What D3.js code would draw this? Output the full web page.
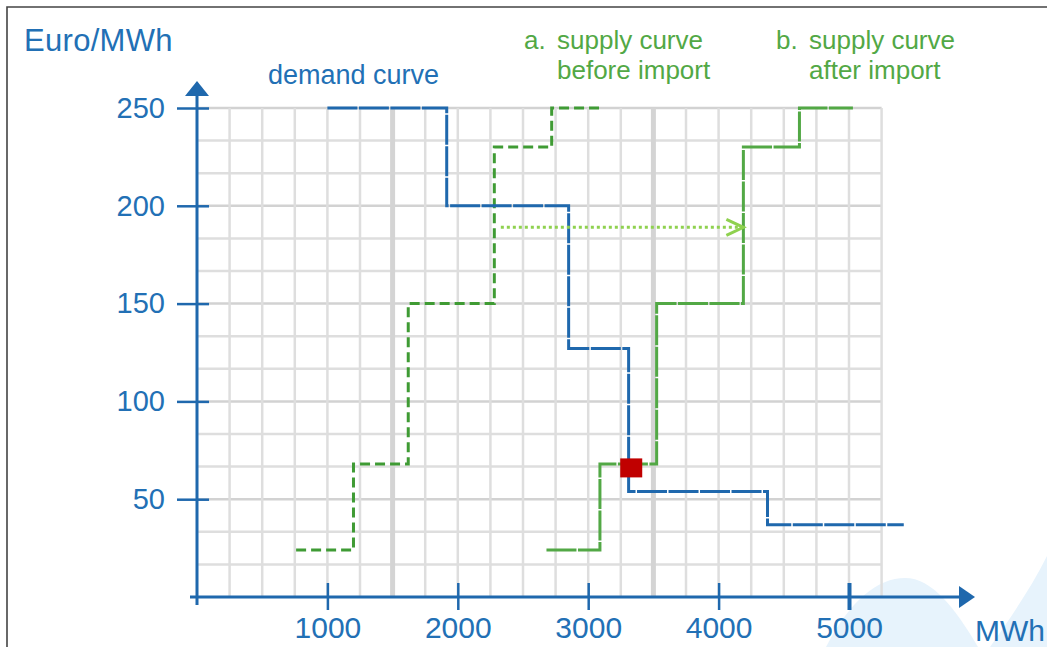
<!DOCTYPE html>
<html>
<head>
<meta charset="utf-8">
<script src="https://cdn.jsdelivr.net/npm/d3@7"></script>
<style>
  body { margin: 0; background: #fff; }
  text { font-family: "Liberation Sans", Arial, sans-serif; }
</style>
</head>
<body>
<script>
// step curves (MWh, Euro/MWh)
var demandQ = [1000, 1915, 2850, 3310, 4375, 5420];
var demandP = [250, 200, 127, 54, 37, 37];

var beforeQ = [760, 1200, 1620, 2280, 2720, 3110];
var beforeP = [24, 68, 150, 230, 250, 250];

var afterQ = [2680, 3090, 3525, 4190, 4620, 5030];
var afterP = [24, 68, 150, 230, 250, 250];

var importArrowQ = [2330, 4190];
var importArrowP = 189;

var equilibrium = [3330, 66];

var xTicks = [1000, 2000, 3000, 4000, 5000];
var yTicks = [50, 100, 150, 200, 250];

var width = 1047,
    height = 647;

var blue = '#1f68ad',
    textBlue = '#2270b5',
    green = '#52a845',
    darkGreen = '#3f9b34';

var svg = d3.select('body')
  .append('svg')
  .attr('width', width)
  .attr('height', height);

var x = d3.scaleLinear().domain([0, 5000]).range([197, 849]);
var y = d3.scaleLinear().domain([0, 250]).range([597, 108]);

// light blue decoration in the corner
svg.append('path')
  .attr('d', 'M826,647 C850,600 878,578 905,578 C932,578 955,608 978,647 Z')
  .attr('fill', '#e7f3fc');
svg.append('path')
  .attr('d', 'M990,647 C1010,618 1030,590 1047,556 L1047,647 Z')
  .attr('fill', '#e7f3fc');

// frame
svg.append('path')
  .attr('d', 'M7,647 L7,7 L1047,7')
  .attr('fill', 'none')
  .attr('stroke', '#444')
  .attr('stroke-width', 1.6);

// grid
var grid = svg.append('g');
var vLines = d3.range(250, 5251, 250);
var hLines = d3.range(1, 16).map(function(i) { return i * 50 / 3; });

grid.selectAll('line.h')
  .data(hLines)
  .enter()
  .append('line')
  .attr('x1', x(0))
  .attr('x2', x(5250))
  .attr('y1', d => y(d))
  .attr('y2', d => y(d))
  .attr('stroke', (d, i) => (i + 1) % 3 == 0 ? '#d2d2d2' : '#dedede')
  .attr('stroke-width', 2.5);

grid.selectAll('line.v')
  .data(vLines)
  .enter()
  .append('line')
  .attr('x1', d => x(d))
  .attr('x2', d => x(d))
  .attr('y1', y(250))
  .attr('y2', y(0))
  .attr('stroke', d => (d == 1500 || d == 3500) ? '#d4d4d4' : '#dedede')
  .attr('stroke-width', d => (d == 1500 || d == 3500) ? 5 : 2.5);

// curves
var step = d3.line()
  .x(d => x(d[0]))
  .y(d => y(d[1]))
  .curve(d3.curveStepAfter);

svg.append('path')
  .datum(d3.zip(beforeQ, beforeP))
  .attr('d', step)
  .attr('fill', 'none')
  .attr('stroke', darkGreen)
  .attr('stroke-width', 3)
  .attr('stroke-dasharray', '10,5');

svg.append('path')
  .datum(d3.zip(afterQ, afterP))
  .attr('d', step)
  .attr('fill', 'none')
  .attr('stroke', green)
  .attr('stroke-width', 3)
  .attr('stroke-dasharray', '30,1.5');

svg.append('path')
  .datum(d3.zip(demandQ, demandP))
  .attr('d', step)
  .attr('fill', 'none')
  .attr('stroke', blue)
  .attr('stroke-width', 3)
  .attr('stroke-dasharray', '30,1.5');

// import arrow
svg.append('line')
  .attr('x1', x(importArrowQ[0]))
  .attr('x2', x(importArrowQ[1]) - 3)
  .attr('y1', y(importArrowP))
  .attr('y2', y(importArrowP))
  .attr('stroke', '#8fd14f')
  .attr('stroke-width', 3)
  .attr('stroke-dasharray', '3,3');
svg.append('path')
  .attr('d', 'M' + (x(importArrowQ[1]) - 17) + ',' + (y(importArrowP) - 8) +
             ' L' + x(importArrowQ[1]) + ',' + y(importArrowP) +
             ' L' + (x(importArrowQ[1]) - 17) + ',' + (y(importArrowP) + 8))
  .attr('fill', 'none')
  .attr('stroke', '#8fd14f')
  .attr('stroke-width', 3);

// equilibrium point
svg.append('rect')
  .attr('x', x(equilibrium[0]) - 11)
  .attr('y', y(equilibrium[1]) - 9.5)
  .attr('width', 22)
  .attr('height', 19)
  .attr('fill', '#c00000');

// axes
var xAxis = svg.append('g')
  .attr('transform', 'translate(0,' + y(0) + ')')
  .call(d3.axisBottom(x).tickValues(xTicks).tickFormat(d3.format('d')).tickSize(13).tickPadding(7));
xAxis.select('.domain').remove();
xAxis.selectAll('line')
  .attr('y1', -14)
  .attr('stroke', blue)
  .attr('stroke-width', d => d == 5000 ? 4 : 2.5);
xAxis.selectAll('text')
  .attr('fill', textBlue)
  .style('font-size', '30px')
  .style('font-family', '"Liberation Sans", Arial, sans-serif');

var yAxis = svg.append('g')
  .attr('transform', 'translate(' + x(0) + ',0)')
  .call(d3.axisLeft(y).tickValues(yTicks).tickSize(20).tickPadding(12));
yAxis.select('.domain').remove();
yAxis.selectAll('line')
  .attr('x1', 12)
  .attr('stroke', blue)
  .attr('stroke-width', 2.5);
yAxis.selectAll('text')
  .attr('fill', textBlue)
  .style('font-size', '29px')
  .style('font-family', '"Liberation Sans", Arial, sans-serif');

svg.append('line')
  .attr('x1', 190).attr('x2', 962)
  .attr('y1', y(0)).attr('y2', y(0))
  .attr('stroke', blue)
  .attr('stroke-width', 3);
svg.append('path')
  .attr('d', 'M959,586 L975,597 L959,608 Z')
  .attr('fill', blue);

svg.append('line')
  .attr('x1', x(0)).attr('x2', x(0))
  .attr('y1', 605).attr('y2', 92)
  .attr('stroke', blue)
  .attr('stroke-width', 3);
svg.append('path')
  .attr('d', 'M185,96 L197,81 L209,96 Z')
  .attr('fill', blue);

// labels
svg.append('text')
  .attr('x', 24).attr('y', 51)
  .attr('fill', textBlue)
  .style('font-size', '31px')
  .style('letter-spacing', '0.3px')
  .text('Euro/MWh');

svg.append('text')
  .attr('x', 975).attr('y', 641)
  .attr('fill', textBlue)
  .style('font-size', '30px')
  .text('MWh');

svg.append('text')
  .attr('x', 268).attr('y', 84)
  .attr('fill', textBlue)
  .style('font-size', '27px')
  .text('demand curve');

var legend = [
  { key: 'a.', lines: ['supply curve', 'before import'], x: 524 },
  { key: 'b.', lines: ['supply curve', 'after import'], x: 776 }
];

legend.forEach(function(l) {
  svg.append('text')
    .attr('x', l.x).attr('y', 49)
    .attr('fill', green)
    .style('font-size', '26px')
    .text(l.key);
  l.lines.forEach(function(t, i) {
    svg.append('text')
      .attr('x', l.x + 33).attr('y', 49 + i * 30)
      .attr('fill', green)
      .style('font-size', '26px')
      .text(t);
  });
});
</script>
</body>
</html>
